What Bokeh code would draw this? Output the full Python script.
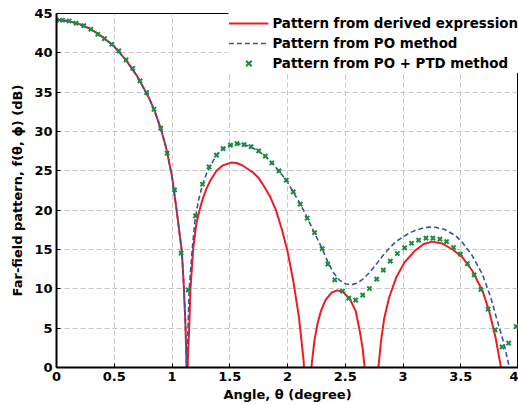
from bokeh.plotting import figure
from bokeh.models import Legend, LegendItem, FixedTicker, NumeralTickFormatter
from bokeh.embed import file_html
from bokeh.resources import INLINE

# ---- data ----
derived_x = [0.00, 0.10, 0.20, 0.30, 0.40, 0.50, 0.60, 0.70, 0.80, 0.85, 0.90, 0.95, 1.00, 1.04, 1.07,
             1.085, 1.10, 1.115, 1.125, 1.131, 1.137, 1.149, 1.16, 1.183, 1.21, 1.24, 1.27, 1.30, 1.33,
             1.385, 1.44, 1.51, 1.56, 1.615, 1.66, 1.70, 1.75, 1.79, 1.85, 1.90, 1.95, 2.00, 2.05, 2.10,
             2.14, 2.175, 2.21, 2.235, 2.26, 2.29, 2.33, 2.38, 2.43, 2.48, 2.54, 2.59, 2.625, 2.65, 2.666,
             2.73, 2.789, 2.81, 2.838, 2.88, 2.94, 3.01, 3.10, 3.18, 3.25, 3.34, 3.43, 3.515, 3.60, 3.69,
             3.745, 3.80, 3.846, 3.87]
derived_y = [44.2, 44.05, 43.65, 43.0, 42.0, 40.8, 39.1, 37.0, 34.3, 32.6, 30.5, 27.9, 24.3, 20.0, 16.5,
             14.8, 11.0, 6.0, 1.0, -10.0, 1.0, 5.0, 10.0, 15.0, 18.2, 20.1, 21.6, 22.8, 23.7,
             25.0, 25.7, 26.05, 26.0, 25.65, 25.2, 24.8, 24.1, 23.2, 21.7, 20.0, 17.6, 14.8, 11.0, 6.3,
             0.8, -12.0, 0.5, 3.6, 5.6, 7.2, 8.6, 9.5, 9.8, 9.6, 8.7, 7.2, 4.7, 2.5, 0.3,
             -12.0, 0.3, 3.4, 6.3, 8.9, 11.4, 13.3, 14.8, 15.7, 16.0, 15.75, 15.0, 14.0, 12.3, 9.7,
             7.2, 3.9, 0.2, -5.0]

po_x = [0.00, 0.10, 0.20, 0.30, 0.40, 0.50, 0.60, 0.70, 0.80, 0.85, 0.90, 0.95, 1.00, 1.04, 1.07,
        1.085, 1.10, 1.115, 1.125, 1.128, 1.135, 1.149, 1.175, 1.20, 1.23, 1.264, 1.30, 1.33, 1.385,
        1.44, 1.50, 1.56, 1.62, 1.68, 1.75, 1.81, 1.865, 1.93, 1.99, 2.05, 2.11, 2.176, 2.25, 2.30,
        2.35, 2.40, 2.45, 2.50, 2.55, 2.60, 2.65, 2.71, 2.77, 2.824, 2.882, 2.94, 3.00, 3.054, 3.112,
        3.17, 3.227, 3.28, 3.36, 3.458, 3.515, 3.60, 3.687, 3.76, 3.817, 3.875, 3.918, 3.94]
po_y = [44.2, 44.05, 43.65, 43.0, 42.0, 40.8, 39.1, 37.0, 34.3, 32.6, 30.5, 27.9, 24.3, 20.0, 16.5,
        14.8, 11.0, 6.0, 1.0, -3.0, 3.0, 10.0, 15.0, 18.8, 21.3, 23.2, 24.7, 25.6, 27.0,
        27.8, 28.25, 28.45, 28.35, 28.05, 27.5, 26.85, 26.0, 24.9, 23.8, 22.3, 20.8, 18.9, 16.6, 15.1,
        13.4, 12.0, 11.1, 10.65, 10.5, 10.7, 11.2, 12.07, 13.14, 14.2, 15.17, 16.0, 16.6, 17.08, 17.46,
        17.71, 17.84, 17.82, 17.55, 16.73, 15.88, 14.2, 11.87, 8.9, 5.9, 3.0, 0.2, -3.0]

ptd_x = [0.0, 0.052, 0.11, 0.17, 0.236, 0.297, 0.357, 0.415, 0.478, 0.539, 0.602, 0.66, 0.723, 0.78,
         0.844, 0.902, 0.958, 1.022, 1.079, 1.14, 1.204, 1.264, 1.321, 1.385, 1.442, 1.506, 1.563,
         1.623, 1.684, 1.75, 1.808, 1.865, 1.926, 1.99, 2.05, 2.11, 2.171, 2.234, 2.30, 2.349, 2.409,
         2.476, 2.53, 2.59, 2.651, 2.709, 2.772, 2.83, 2.89, 2.951, 3.014, 3.074, 3.135, 3.199, 3.259,
         3.32, 3.377, 3.437, 3.497, 3.558, 3.616, 3.674, 3.737, 3.797, 3.857, 3.915, 3.98]
ptd_y = [44.14, 44.14, 44.05, 43.76, 43.45, 43.0, 42.36, 41.8, 41.09, 40.24, 39.1, 38.04, 36.43, 34.94,
         32.83, 30.42, 27.24, 22.58, 14.54, 9.87, 19.27, 23.3, 25.5, 26.99, 27.83, 28.26, 28.46,
         28.34, 28.08, 27.53, 26.86, 26.01, 24.99, 23.81, 22.32, 20.76, 18.98, 17.15, 15.12, 13.14, 11.14,
         9.7, 8.82, 8.56, 9.2, 10.04, 11.23, 12.37, 13.52, 14.49, 15.21, 15.8, 16.19, 16.44, 16.44,
         16.31, 16.01, 15.25, 14.41, 13.21, 11.78, 9.91, 7.42, 4.79, 2.63, 3.1, 5.21]

x_ticks = [0, 0.5, 1, 1.5, 2, 2.5, 3, 3.5, 4]
y_ticks = [0, 5, 10, 15, 20, 25, 30, 35, 40, 45]

labels = ["Pattern from derived expression", "Pattern from PO method", "Pattern from PO + PTD method"]

FONT = "DejaVu Sans"

p = figure(width=518, height=405, x_range=(0, 4), y_range=(0, 45),
           output_backend="svg", toolbar_location=None,
           min_border_left=56, min_border_right=0, min_border_top=13, min_border_bottom=38)
p.background_fill_color = "white"
p.outline_line_color = "black"
p.outline_line_width = 1

r1 = p.line(derived_x, derived_y, line_color="#ed1c24", line_width=2)
r2 = p.line(po_x, po_y, line_color="#3653a4", line_width=1.6, line_dash="5 3")
r3 = p.scatter(ptd_x, ptd_y, marker="x", size=6, line_color="#1e8a3e", line_width=2)

for g in (p.xgrid[0], p.ygrid[0]):
    g.grid_line_color = "#c4c4c4"
    g.grid_line_dash = "5 3"
    g.grid_line_width = 1

p.xaxis.ticker = FixedTicker(ticks=x_ticks, minor_ticks=[])
p.yaxis.ticker = FixedTicker(ticks=y_ticks, minor_ticks=[])
p.xaxis.formatter = NumeralTickFormatter(format="0.[0]")
p.xgrid[0].ticker = FixedTicker(ticks=x_ticks, minor_ticks=[])
p.ygrid[0].ticker = FixedTicker(ticks=y_ticks, minor_ticks=[])

p.xaxis.axis_label = "Angle, θ (degree)"
p.yaxis.axis_label = "Far-field pattern, f(θ, ϕ) (dB)"

for ax in (p.xaxis[0], p.yaxis[0]):
    ax.axis_line_color = "black"
    ax.axis_line_width = 2
    ax.major_tick_in = 4
    ax.major_tick_out = 0
    ax.major_tick_line_color = "black"
    ax.minor_tick_line_color = None
    ax.major_label_text_font = FONT
    ax.major_label_text_font_style = "bold"
    ax.major_label_text_font_size = "13px"
    ax.major_label_text_color = "black"
    ax.axis_label_text_font = FONT
    ax.axis_label_text_font_style = "bold"
    ax.axis_label_text_font_size = "13px"
    ax.axis_label_text_color = "black"
p.xaxis.major_label_standoff = 4
p.xaxis.axis_label_standoff = 3
p.yaxis.major_label_standoff = 4
p.yaxis.axis_label_standoff = 6

legend = Legend(items=[LegendItem(label=labels[0], renderers=[r1]),
                       LegendItem(label=labels[1], renderers=[r2]),
                       LegendItem(label=labels[2], renderers=[r3])],
                location="top_right", margin=0, padding=9, spacing=0,
                glyph_width=40, glyph_height=20, label_height=20, label_standoff=4,
                label_text_font=FONT, label_text_font_style="bold", label_text_font_size="13.4px",
                label_text_color="black",
                border_line_color=None, background_fill_color="white", background_fill_alpha=1.0)
p.add_layout(legend)

open("out.html", "w").write(file_html(p, INLINE))
